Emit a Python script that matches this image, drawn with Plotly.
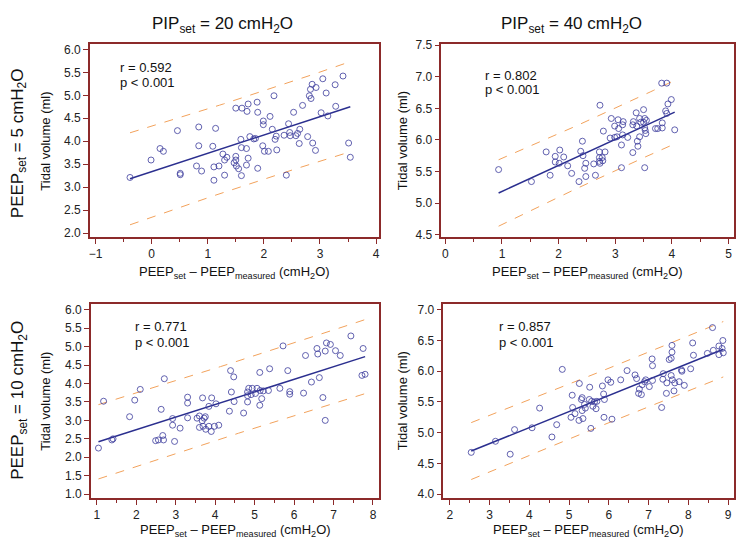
import numpy as np
import plotly.graph_objects as go

# ---------------- data ----------------
# Panel A: PIP 20, PEEP 5
a_x = [-0.385, -0.01, 0.15, 0.21, 0.46, 0.51, 0.51, 0.84, 0.84, 0.80, 0.89, 1.14, 1.09, 1.11, 1.20,
       1.11, 1.27, 1.34, 1.30, 1.30, 1.50, 1.50, 1.50, 1.47, 1.51, 1.55, 1.60, 1.59, 1.60, 1.69,
       1.72, 1.69, 1.61, 1.72, 1.70, 1.88, 1.89, 1.75, 1.82, 1.85, 1.89, 1.98, 1.99, 1.99, 2.01,
       2.08, 2.11, 2.15, 2.18, 2.20, 2.22, 2.23, 2.36, 2.40, 2.44, 2.46, 2.47, 2.53, 2.57, 2.60,
       2.64, 2.63, 2.69, 2.78, 2.81, 2.84, 2.83, 2.86, 2.87, 2.92, 2.93, 3.02, 3.05, 3.11, 3.14,
       3.28, 3.27, 3.41, 3.51, 3.54]
a_y = [3.21, 3.59, 3.84, 3.78, 4.23, 3.30, 3.27, 4.31, 3.90, 3.46, 3.35, 4.28, 3.89, 3.44, 3.46,
       3.15, 3.72, 3.65, 3.59, 3.26, 4.72, 3.67, 3.59, 3.53, 3.46, 3.40, 3.25, 4.04, 3.86, 3.84,
       3.63, 3.48, 4.72, 4.81, 4.65, 4.85, 4.63, 4.10, 4.05, 4.06, 3.41, 3.90, 4.44, 4.36, 3.78,
       3.78, 4.54, 4.26, 4.99, 4.04, 4.11, 3.81, 4.13, 3.26, 4.38, 4.19, 4.12, 4.63, 4.12, 4.17,
       4.26, 3.95, 4.78, 4.10, 4.99, 4.93, 5.13, 5.24, 3.96, 3.80, 5.17, 4.62, 5.36, 5.05, 4.55,
       4.76, 5.23, 5.42, 3.96, 3.65]

# Panel B: PIP 40, PEEP 5
b_x = [0.94, 1.52, 1.78, 1.85, 1.94, 1.94, 2.02, 2.01, 2.09, 2.16, 2.23, 2.36, 2.39, 2.42, 2.43,
       2.46, 2.48, 2.48, 2.62, 2.65, 2.72, 2.72, 2.72, 2.73, 2.73, 2.77, 2.78, 2.79, 2.82, 2.91,
       2.93, 2.99, 2.99, 3.03, 3.05, 3.06, 3.11, 3.13, 3.11, 3.13, 3.14, 3.22, 3.31, 3.31, 3.32,
       3.37, 3.38, 3.39, 3.40, 3.43, 3.43, 3.45, 3.50, 3.50, 3.52, 3.52, 3.53, 3.54, 3.52, 3.55,
       3.71, 3.75, 3.83, 3.83, 3.82, 3.91, 3.89, 3.91, 3.93, 3.99, 4.05]
b_y = [5.53, 5.34, 5.81, 5.44, 5.74, 5.65, 5.84, 5.63, 5.73, 5.59, 5.47, 5.34, 5.82, 5.98, 5.75,
       5.55, 5.42, 5.63, 5.62, 5.44, 5.81, 5.72, 5.66, 5.63, 6.55, 5.72, 5.67, 6.14, 5.81, 6.03,
       6.34, 6.04, 6.22, 6.05, 6.32, 6.18, 5.92, 6.08, 5.56, 6.24, 6.29, 6.04, 5.80, 6.24, 6.29,
       6.43, 6.22, 5.98, 5.90, 6.05, 6.34, 6.28, 6.28, 6.48, 6.34, 6.19, 6.15, 6.10, 5.56, 6.31,
       6.18, 6.18, 6.27, 6.19, 6.90, 6.90, 6.46, 6.42, 6.57, 6.64, 6.16]

# Panel C: PIP 20, PEEP 10
c_x = [1.04, 1.17, 1.38, 1.41, 1.83, 1.96, 2.10, 2.49, 2.56, 2.63, 2.67, 2.69, 2.71, 2.92, 2.92,
       2.97, 3.11, 3.30, 3.30, 3.30, 3.54, 3.60, 3.60, 3.67, 3.68, 3.69, 3.72, 3.75, 3.76, 3.84,
       3.84, 3.91, 3.90, 3.98, 4.02, 4.09, 4.36, 4.39, 4.41, 4.47, 4.48, 4.72, 4.82, 4.82, 4.82,
       4.85, 4.94, 4.91, 5.02, 5.06, 5.13, 5.13, 5.14, 5.18, 5.22, 5.35, 5.38, 5.64, 5.72, 5.84,
       5.89, 5.89, 6.24, 6.29, 6.44, 6.58, 6.60, 6.64, 6.73, 6.79, 6.82, 6.79, 6.92, 7.05, 7.17,
       7.44, 7.75, 7.72, 7.80]
c_y = [2.25, 3.52, 2.47, 2.50, 3.10, 3.55, 3.84, 2.45, 2.47, 3.30, 2.59, 2.47, 4.13, 3.05, 2.87,
       2.43, 2.79, 3.63, 3.47, 3.07, 3.06, 3.12, 2.81, 2.99, 3.61, 2.84, 3.06, 3.10, 2.76, 3.38,
       2.84, 3.61, 2.70, 2.84, 3.45, 2.87, 3.25, 4.35, 3.77, 4.18, 3.51, 3.20, 3.77, 3.67, 3.50,
       3.87, 3.87, 3.70, 3.73, 3.87, 4.30, 3.41, 3.81, 3.59, 3.80, 3.81, 4.40, 3.87, 5.02, 4.35,
       3.78, 3.71, 3.74, 4.76, 4.04, 4.95, 4.80, 4.16, 3.62, 4.88, 5.10, 3.00, 5.06, 4.89, 4.76,
       5.29, 4.95, 4.22, 4.25]

# Panel D: PIP 40, PEEP 10
d_x = [2.54, 3.15, 3.52, 3.63, 4.07, 4.26, 4.57, 4.69, 4.83, 5.05, 5.08, 5.09, 5.15, 5.25, 5.26,
       5.31, 5.33, 5.33, 5.35, 5.39, 5.41, 5.51, 5.52, 5.55, 5.57, 5.60, 5.64, 5.70, 5.68, 5.84,
       5.87, 5.89, 5.88, 5.98, 6.05, 6.08, 6.30, 6.46, 6.66, 6.70, 6.75, 6.77, 6.82, 6.84, 6.90,
       6.93, 7.02, 7.09, 7.10, 7.10, 7.33, 7.36, 7.37, 7.45, 7.46, 7.52, 7.57, 7.59, 7.59, 7.57,
       7.60, 7.64, 7.66, 7.77, 7.83, 7.84, 7.90, 8.06, 8.11, 8.13, 8.48, 8.61, 8.63, 8.77, 8.77,
       8.87, 8.85, 8.88]
d_y = [4.68, 4.86, 4.65, 5.05, 5.08, 5.40, 4.93, 5.13, 6.03, 5.25, 5.61, 5.41, 5.31, 5.20, 5.80,
       5.54, 5.57, 5.36, 5.23, 5.46, 5.40, 5.54, 5.74, 5.07, 5.51, 5.43, 5.50, 5.51, 5.39, 5.76,
       5.63, 5.54, 5.25, 5.86, 5.82, 5.22, 5.86, 6.01, 5.94, 5.88, 5.64, 5.71, 5.62, 5.78, 5.83,
       5.86, 5.75, 6.20, 6.09, 5.85, 5.41, 5.87, 5.96, 5.64, 5.81, 6.19, 6.21, 6.42, 6.31, 5.93,
       5.86, 5.68, 5.81, 5.83, 6.02, 6.00, 5.77, 6.04, 6.46, 6.26, 6.29, 6.71, 6.34, 6.41, 6.27,
       6.50, 6.37, 6.30]

r_labels = ["r = 0.592", "r = 0.802", "r = 0.771", "r = 0.857"]
p_label = "p < 0.001"
col_titles = ["PIP<sub>set</sub> = 20 cmH<sub>2</sub>O", "PIP<sub>set</sub> = 40 cmH<sub>2</sub>O"]
row_titles = ["PEEP<sub>set</sub> = 5 cmH<sub>2</sub>O", "PEEP<sub>set</sub> = 10 cmH<sub>2</sub>O"]
x_title = "PEEP<sub>set</sub> \u2013 PEEP<sub>measured</sub> (cmH<sub>2</sub>O)"
y_title = "Tidal volume (ml)"
x_ranges = [[-1.10, 4.06], [-0.07, 5.097], [0.848, 8.165], [1.84, 9.15]]
y_ranges = [[1.908, 6.113], [4.458, 7.517], [0.90, 6.16], [3.94, 7.096]]
y_dticks = [0.5, 0.5, 0.5, 0.5]
T_CRIT = 1.99

# ---------------- layout geometry (page pixels) ----------------
W, H = 737, 544
panels_px = [  # left, right, top, bottom
    (89, 379, 39, 236),
    (441, 734, 39, 236),
    (90, 379, 304, 502),
    (443, 734, 304, 502),
]
text_pos = [(117, 62.7, 78.3), (483, 70.7, 85.7), (132, 327, 343), (497, 327, 343)]
ytitle_x = [45, 402, 45, 402]
xtitle_y = [272, 272, 535, 535]

FRAME = "#8c2a2a"
MARK = "#3b3b9c"
LINE = "#2b2f8f"
BAND = "#f2a25c"
FONT = "Liberation Sans, Arial, sans-serif"

def px2paper_x(px):
    return px / W

def px2paper_y(py):
    return 1 - py / H

fig = go.Figure()
datasets = [(a_x, a_y), (b_x, b_y), (c_x, c_y), (d_x, d_y)]
annotations = []

for i, (xs, ys) in enumerate(datasets):
    xs = np.array(xs, float)
    ys = np.array(ys, float)
    n = len(xs)
    slope, intercept = np.polyfit(xs, ys, 1)
    res = ys - (slope * xs + intercept)
    s = np.sqrt(np.sum(res ** 2) / (n - 2))
    xm = xs.mean()
    sxx = np.sum((xs - xm) ** 2)
    xg = np.linspace(xs.min(), xs.max(), 60)
    yg = slope * xg + intercept
    half = T_CRIT * s * np.sqrt(1 + 1 / n + (xg - xm) ** 2 / sxx)

    ax = "" if i == 0 else str(i + 1)
    xa, ya = "x" + ax, "y" + ax
    for yb in (yg + half, yg - half):
        fig.add_trace(go.Scatter(x=xg, y=yb, mode="lines", xaxis=xa, yaxis=ya,
                                 line=dict(color=BAND, width=1, dash="dash"),
                                 showlegend=False, hoverinfo="skip"))
    fig.add_trace(go.Scatter(x=xg, y=yg, mode="lines", xaxis=xa, yaxis=ya,
                             line=dict(color=LINE, width=1.5),
                             showlegend=False, hoverinfo="skip"))
    fig.add_trace(go.Scatter(x=xs, y=ys, mode="markers", xaxis=xa, yaxis=ya,
                             marker=dict(symbol="circle-open", size=6, color=MARK,
                                         line=dict(width=0.8, color=MARK)),
                             showlegend=False))

    l, r, t, b = panels_px[i]
    common = dict(showline=True, linecolor=FRAME, linewidth=1.5, mirror=True,
                  ticks="outside", tickcolor=FRAME, ticklen=5, tickwidth=1,
                  showgrid=False, zeroline=False,
                  tickfont=dict(family=FONT, size=12, color="#222"))
    fig.layout["xaxis" + ax] = dict(
        domain=[px2paper_x(l), px2paper_x(r)], range=x_ranges[i],
        anchor=ya, dtick=1, tickformat="d",
        minor=dict(dtick=0.5, ticks="outside", ticklen=3, tickcolor=FRAME),
        **common)
    fig.layout["yaxis" + ax] = dict(
        domain=[px2paper_y(b), px2paper_y(t)], range=y_ranges[i],
        anchor=xa, dtick=y_dticks[i], tickformat=".1f", **common)

    tx, ty1, ty2 = text_pos[i]
    for txt, ty in ((r_labels[i], ty1), (p_label, ty2)):
        annotations.append(dict(text=txt, x=px2paper_x(tx), y=px2paper_y(ty),
                                xref="paper", yref="paper", xanchor="left", yanchor="middle",
                                showarrow=False, font=dict(family=FONT, size=13, color="#111")))
    # axis titles
    annotations.append(dict(text=x_title, x=px2paper_x((l + r) / 2),
                            y=px2paper_y(xtitle_y[i]), xref="paper", yref="paper",
                            xanchor="center", yanchor="middle", showarrow=False,
                            font=dict(family=FONT, size=13, color="#111")))
    annotations.append(dict(text=y_title, x=px2paper_x(ytitle_x[i]),
                            y=px2paper_y((t + b) / 2), xref="paper", yref="paper",
                            xanchor="center", yanchor="middle", textangle=-90, showarrow=False,
                            font=dict(family=FONT, size=13, color="#111")))

for j, txt in enumerate(col_titles):
    annotations.append(dict(text=txt, x=px2paper_x([222, 571][j]), y=px2paper_y(19),
                            xref="paper", yref="paper", xanchor="center", yanchor="middle",
                            showarrow=False, font=dict(family=FONT, size=17, color="#111")))
for j, txt in enumerate(row_titles):
    annotations.append(dict(text=txt, x=px2paper_x(18), y=px2paper_y([140, 402][j]),
                            xref="paper", yref="paper", xanchor="center", yanchor="middle",
                            textangle=-90, showarrow=False,
                            font=dict(family=FONT, size=17, color="#111")))

fig.update_layout(width=W, height=H, margin=dict(l=0, r=0, t=0, b=0),
                  paper_bgcolor="white", plot_bgcolor="white",
                  annotations=annotations, showlegend=False)
# remove the browser's default 8px page margin so the figure fills the window exactly
fig.write_html("out.html", config={"displayModeBar": False},
               post_script="document.body.style.margin='0';document.body.style.overflow='hidden';")
